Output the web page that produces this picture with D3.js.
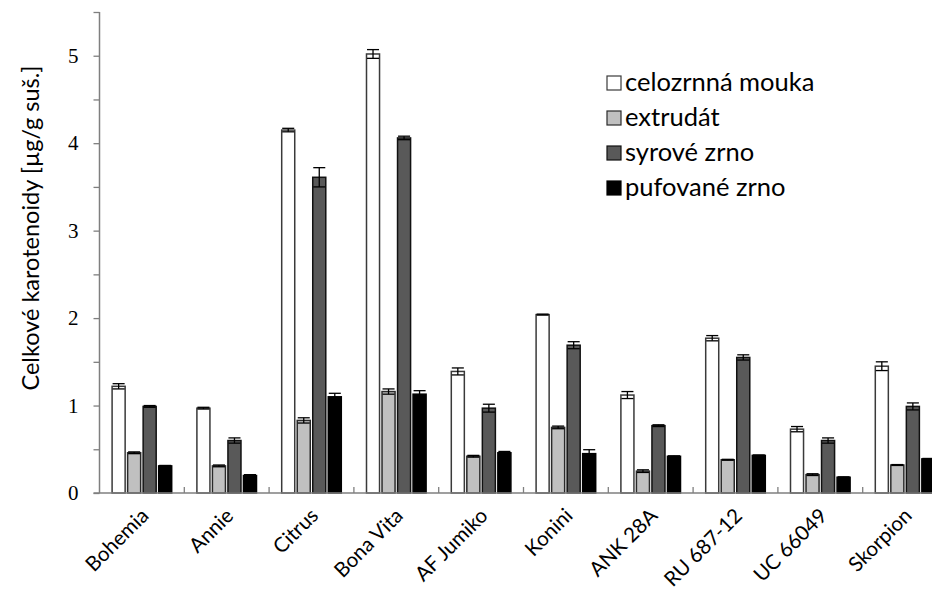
<!DOCTYPE html>
<html>
<head>
<meta charset="utf-8">
<script src="https://cdn.jsdelivr.net/npm/d3@7"></script>
<style>
  html, body { margin: 0; padding: 0; background: #fff; }
  svg { display: block; }
</style>
</head>
<body>
<svg id="chart" width="932" height="595"></svg>
<script>
// ---- data ----
const categories = ["Bohemia", "Annie", "Citrus", "Bona Vita", "AF Jumiko", "Konini", "ANK 28A", "RU 687-12", "UC 66049", "Skorpion"];
const seriesNames = ["celozrnná mouka", "extrudát", "syrové zrno", "pufované zrno"];
const celozrnna = [1.22, 0.97, 4.15, 5.02, 1.39, 2.04, 1.12, 1.77, 0.73, 1.45];
const extrudat  = [0.46, 0.31, 0.83, 1.16, 0.42, 0.75, 0.25, 0.38, 0.21, 0.32];
const syrove    = [0.99, 0.60, 3.61, 4.06, 0.97, 1.69, 0.77, 1.55, 0.60, 0.99];
const pufovane  = [0.31, 0.20, 1.10, 1.13, 0.46, 0.45, 0.42, 0.43, 0.18, 0.39];
const errCelozrnna = [0.03, 0.01, 0.02, 0.05, 0.04, 0.005, 0.04, 0.03, 0.03, 0.05];
const errExtrudat  = [0.01, 0.01, 0.03, 0.03, 0.01, 0.015, 0.015, 0.005, 0.01, 0.005];
const errSyrove    = [0.01, 0.03, 0.11, 0.02, 0.045, 0.04, 0.01, 0.03, 0.03, 0.04];
const errPufovane  = [0.005, 0.01, 0.04, 0.04, 0.015, 0.045, 0.005, 0.005, 0.005, 0.005];
const yTicks = [0, 1, 2, 3, 4, 5];
const yMinorTicks = [0.5, 1.5, 2.5, 3.5, 4.5, 5.5];

const seriesValues = [celozrnna, extrudat, syrove, pufovane];
const seriesErrors = [errCelozrnna, errExtrudat, errSyrove, errPufovane];
const fills = ["#ffffff", "#c0c0c0", "#595959", "#000000"];
const strokes = ["#3a3a3a", "#2a2a2a", "#111111", "#000000"];

const rows = [];
categories.forEach((c, i) => {
  seriesNames.forEach((s, j) => {
    rows.push({cat: c, series: s, si: j, value: seriesValues[j][i], err: seriesErrors[j][i]});
  });
});

// ---- layout ----
const svg = d3.select("#chart");
const axisX = 99.5;
const y0 = 493;
const catW = 84.8;
const sansFont = "Lato, 'Open Sans', sans-serif";

const y = d3.scaleLinear().domain([0, 5.5]).range([y0, 12]);
const x = d3.scaleBand().domain(categories)
  .range([axisX, axisX + catW * categories.length]).paddingInner(0).paddingOuter(0);
const xs = d3.scaleBand().domain(seriesNames)
  .range([12.6, 72.2]).paddingInner(0.16).paddingOuter(0);

const axisColor = "#7f7f7f";

// bars
const g = svg.append("g");
g.selectAll("rect.bar").data(rows).join("rect")
  .attr("class", "bar")
  .attr("x", d => x(d.cat) + xs(d.series))
  .attr("y", d => y(d.value))
  .attr("width", xs.bandwidth())
  .attr("height", d => y(0) - y(d.value))
  .attr("fill", d => fills[d.si])
  .attr("stroke", d => strokes[d.si])
  .attr("stroke-width", 1.5);

// error bars
const eb = g.selectAll("g.err").data(rows).join("g").attr("class", "err")
  .attr("stroke", "#000").attr("stroke-width", 1.3);
eb.append("line")
  .attr("x1", d => x(d.cat) + xs(d.series) + xs.bandwidth() / 2)
  .attr("x2", d => x(d.cat) + xs(d.series) + xs.bandwidth() / 2)
  .attr("y1", d => y(d.value + d.err))
  .attr("y2", d => y(d.value - d.err));
[1, -1].forEach(sgn => {
  eb.append("line")
    .attr("x1", d => x(d.cat) + xs(d.series) + 0.5)
    .attr("x2", d => x(d.cat) + xs(d.series) + xs.bandwidth() - 0.5)
    .attr("y1", d => y(d.value + sgn * d.err))
    .attr("y2", d => y(d.value + sgn * d.err));
});

// y axis
const yAxisG = svg.append("g").attr("transform", `translate(${axisX},0)`);
yAxisG.call(d3.axisLeft(y).tickValues(yTicks).tickSize(6).tickPadding(15).tickFormat(d3.format("d")));
yAxisG.append("g").call(d3.axisLeft(y).tickValues(yMinorTicks).tickSize(6).tickFormat(""));
yAxisG.selectAll(".domain").remove();
yAxisG.append("line").attr("x1", 0).attr("x2", 0).attr("y1", y(5.5)).attr("y2", y(0))
  .attr("stroke", axisColor).attr("stroke-width", 1.5);
yAxisG.selectAll(".tick line").attr("stroke", axisColor).attr("stroke-width", 1.3);
yAxisG.selectAll(".tick text")
  .attr("font-family", "'Liberation Serif', 'Times New Roman', serif")
  .attr("font-size", 21).attr("fill", "#000");

// x axis
const xAxisG = svg.append("g").attr("transform", `translate(0,${y0})`);
xAxisG.append("line").attr("x1", axisX - 6).attr("x2", 932).attr("y1", 0).attr("y2", 0)
  .attr("stroke", axisColor).attr("stroke-width", 1.5);
xAxisG.selectAll("line.xt").data(categories).join("line").attr("class", "xt")
  .attr("x1", d => x(d) + x.bandwidth()).attr("x2", d => x(d) + x.bandwidth())
  .attr("y1", 0).attr("y2", -6)
  .attr("stroke", axisColor).attr("stroke-width", 1.3);
xAxisG.selectAll("text.xl").data(categories).join("text").attr("class", "xl")
  .attr("transform", d => `translate(${x(d) + x.bandwidth() / 2 + 8},${24}) rotate(-45)`)
  .attr("text-anchor", "end")
  .attr("font-family", sansFont)
  .attr("font-size", 20.5)
  .attr("fill", "#000")
  .text(d => d);

// y title
svg.append("text")
  .attr("transform", `translate(39,228) rotate(-90)`)
  .attr("text-anchor", "middle")
  .attr("font-family", sansFont)
  .attr("font-size", 23.5)
  .attr("fill", "#000")
  .text("Celkové karotenoidy [µg/g suš.]");

// legend
const leg = svg.append("g").attr("transform", "translate(607,83)");
const li = leg.selectAll("g").data(seriesNames).join("g")
  .attr("transform", (d, i) => `translate(0,${i * 35})`);
li.append("rect").attr("x", 0).attr("y", -7).attr("width", 14).attr("height", 14)
  .attr("fill", (d, i) => fills[i]).attr("stroke", (d, i) => strokes[i]).attr("stroke-width", 1.2);
li.append("text").attr("x", 18).attr("y", 0).attr("dy", "0.33em")
  .attr("font-family", sansFont)
  .attr("font-size", 25.5).attr("fill", "#000")
  .text(d => d);
</script>
</body>
</html>
